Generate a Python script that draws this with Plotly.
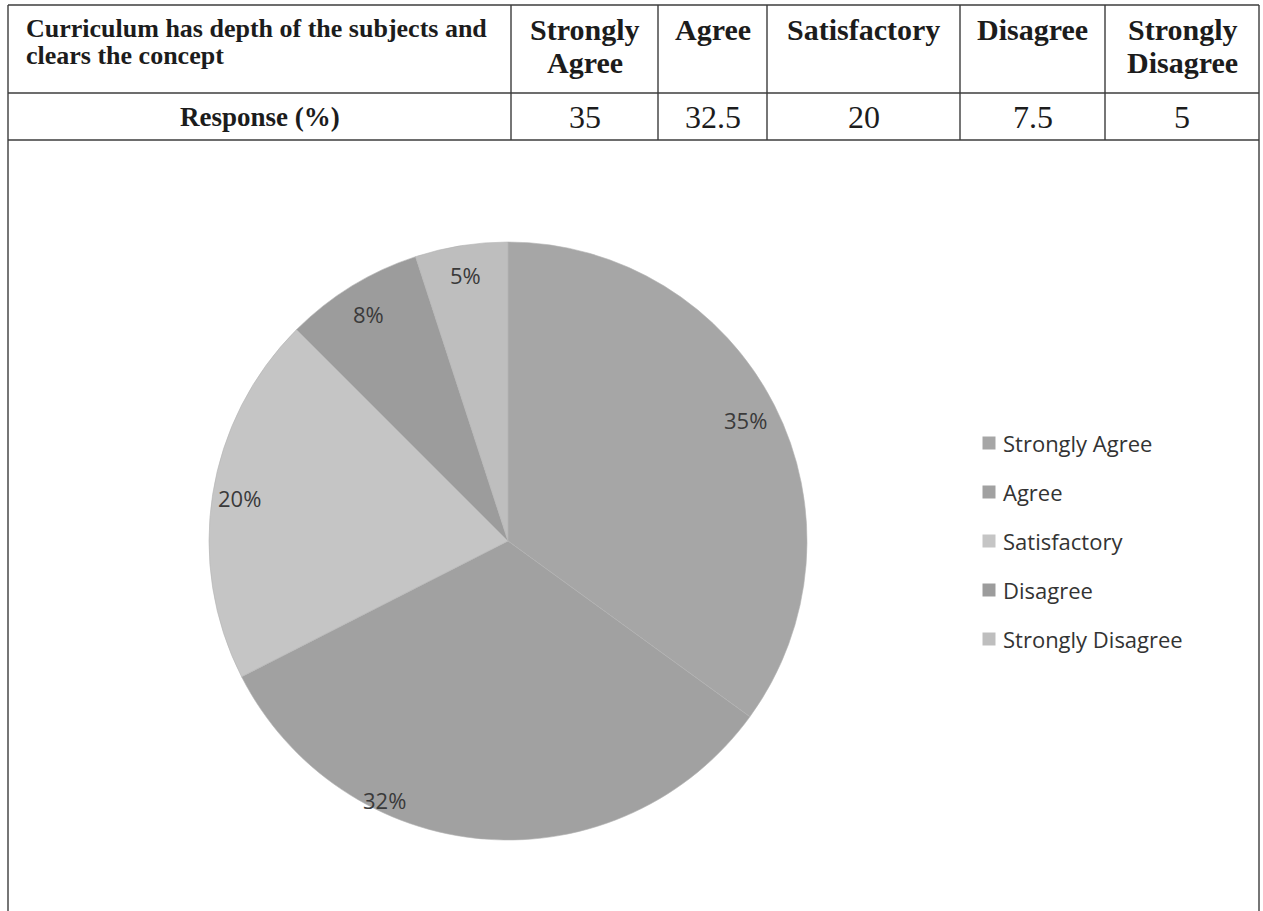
import math
import plotly.graph_objects as go

# ---------------- data ----------------
categories = ["Strongly Agree", "Agree", "Satisfactory", "Disagree", "Strongly Disagree"]
header_categories = [["Strongly", "Agree"], ["Agree"], ["Satisfactory"], ["Disagree"], ["Strongly", "Disagree"]]
responses = [35, 32.5, 20, 7.5, 5]
question_lines = ["Curriculum has depth of the subjects and", "clears the concept"]
row_label = "Response (%)"
colors = ["#a6a6a6", "#a1a1a1", "#c5c5c5", "#9c9c9c", "#bebebe"]

# ---------------- layout / style constants (pixels) ----------------
W, H = 1263, 911
col_x = [8, 511, 658, 767, 960, 1105, 1259]   # vertical table lines
row_y = [5, 93, 140]                          # horizontal table lines
pie_cx, pie_cy, pie_r = 508, 541, 299
# Excel "best fit" label placement: radial fraction and angular nudge (degrees) per slice
label_radius = [0.89, 0.96, 0.91, 0.89, 0.90]
label_nudge_deg = [0, 21, 0, 0, 0]


def px(x):
    return x / W


def py(y):
    return 1 - y / H


fig = go.Figure()

fig.add_trace(go.Pie(
    labels=categories,
    values=responses,
    marker=dict(colors=colors, line=dict(color="#b4b4b4", width=0.6)),
    sort=False,
    direction="clockwise",
    rotation=0,
    textinfo="none",
    hoverinfo="label+percent",
    showlegend=False,
    domain=dict(x=[px(pie_cx - pie_r), px(pie_cx + pie_r)],
                y=[py(pie_cy + pie_r), py(pie_cy - pie_r)]),
))

shapes = []
ann = []
line_col = "#3c3c3c"

# table lines
for x in col_x:
    y_end = H if x in (col_x[0], col_x[-1]) else row_y[-1]
    shapes.append(dict(type="line", xref="paper", yref="paper",
                       x0=px(x), x1=px(x), y0=py(row_y[0]), y1=py(y_end),
                       line=dict(color=line_col, width=1.4)))
for y in row_y:
    shapes.append(dict(type="line", xref="paper", yref="paper",
                       x0=px(col_x[0]), x1=px(col_x[-1]), y0=py(y), y1=py(y),
                       line=dict(color=line_col, width=1.4)))

serif = "Liberation Serif"
text_col = "#1c1c1c"
# header row: question
q_line_y = [28, 56]
for txt, yy in zip(question_lines, q_line_y):
    ann.append(dict(text="<b>" + txt + "</b>", xref="paper", yref="paper",
                    x=px(col_x[0] + 16), y=py(yy), xanchor="left", yanchor="middle",
                    align="left", showarrow=False,
                    font=dict(family=serif, size=26, color=text_col)))
# header row: categories
h_line_y = [29, 62]
for i, lines in enumerate(header_categories):
    cx = (col_x[i + 1] + col_x[i + 2]) / 2
    for txt, yy in zip(lines, h_line_y):
        ann.append(dict(text="<b>" + txt + "</b>", xref="paper", yref="paper",
                        x=px(cx), y=py(yy), xanchor="center", yanchor="middle",
                        showarrow=False,
                        font=dict(family=serif, size=30, color=text_col)))
# value row
mid_y = (row_y[1] + row_y[2]) / 2
ann.append(dict(text="<b>" + row_label + "</b>", xref="paper", yref="paper",
                x=px((col_x[0] + col_x[1]) / 2), y=py(mid_y + 1), xanchor="center", yanchor="middle",
                showarrow=False, font=dict(family=serif, size=27, color=text_col)))
for i, v in enumerate(responses):
    cx = (col_x[i + 1] + col_x[i + 2]) / 2
    ann.append(dict(text=f"{v:g}", xref="paper", yref="paper",
                    x=px(cx), y=py(mid_y + 1), xanchor="center", yanchor="middle",
                    showarrow=False, font=dict(family=serif, size=32, color=text_col)))

# pie data labels (Excel-style, near outer edge of each slice)
total = sum(responses)
cum = 0
for i, v in enumerate(responses):
    mid = (cum + v / 2) / total * 2 * math.pi + math.radians(label_nudge_deg[i])
    cum += v
    lx = pie_cx + label_radius[i] * pie_r * math.sin(mid)
    ly = pie_cy - label_radius[i] * pie_r * math.cos(mid)
    ann.append(dict(text=f"{round(v / total * 100)}%", xref="paper", yref="paper",
                    x=px(lx), y=py(ly), xanchor="center", yanchor="middle", showarrow=False,
                    font=dict(family="Open Sans", size=22, color="#3a3a3a")))

# legend
leg_x, leg_y0, leg_dy = 989, 443, 49
for i, (c, col) in enumerate(zip(categories, colors)):
    yy = leg_y0 + i * leg_dy
    shapes.append(dict(type="rect", xref="paper", yref="paper",
                       x0=px(leg_x - 6.5), x1=px(leg_x + 6.5), y0=py(yy + 6.5), y1=py(yy - 6.5),
                       fillcolor=col, line=dict(width=0)))
    ann.append(dict(text=c, xref="paper", yref="paper", x=px(leg_x + 12), y=py(yy),
                    xanchor="left", yanchor="middle", showarrow=False,
                    font=dict(family="Open Sans", size=22, color="#333333")))

fig.update_layout(
    width=W, height=H, autosize=False,
    margin=dict(l=0, r=0, t=0, b=0),
    paper_bgcolor="white", plot_bgcolor="white",
    shapes=shapes, annotations=ann,
)

fig.write_html("out.html", config={"displayModeBar": False},
               post_script="document.body.style.margin='0';document.body.style.overflow='hidden';")
